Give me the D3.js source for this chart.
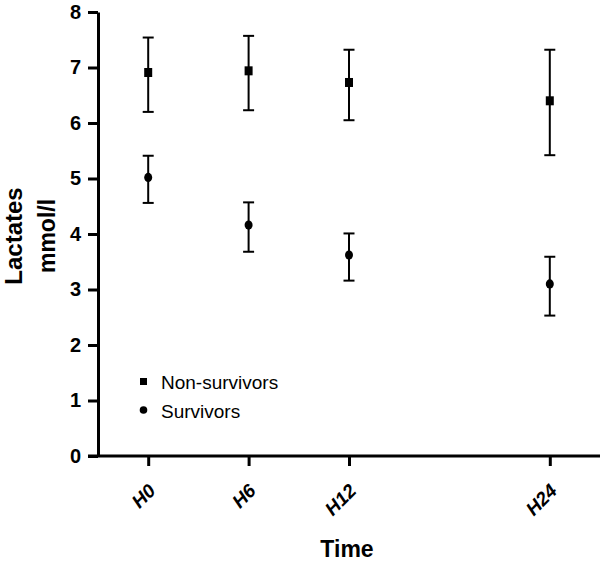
<!DOCTYPE html>
<html>
<head>
<meta charset="utf-8">
<script src="https://cdn.jsdelivr.net/npm/d3@7"></script>
<style>
  html, body { margin: 0; padding: 0; background: #fff; }
  svg { display: block; }
  text { font-family: "Liberation Sans", Arial, Helvetica, sans-serif; fill: #000; }
</style>
</head>
<body>
<svg id="chart" width="600" height="564"></svg>
<script>
// ---- data ----
const timeLabels = ["H0", "H6", "H12", "H24"];
const timeHours = [0, 6, 12, 24];
const yTicks = [0, 1, 2, 3, 4, 5, 6, 7, 8];

const nonSurvMean = [6.91, 6.94, 6.73, 6.40];
const nonSurvLow  = [6.20, 6.23, 6.05, 5.42];
const nonSurvHigh = [7.54, 7.57, 7.32, 7.32];

const survMean = [5.02, 4.16, 3.62, 3.10];
const survLow  = [4.56, 3.68, 3.16, 2.53];
const survHigh = [5.41, 4.57, 4.01, 3.59];

const seriesNames = ["Non-survivors", "Survivors"];

// ---- layout ----
const svg = d3.select("#chart");
const x = d3.scaleLinear().domain([-3, 27]).range([98, 600]);
const y = d3.scaleLinear().domain([0, 8]).range([456, 12]);

// axes
const yAxis = svg.append("g")
  .attr("transform", `translate(${x(-3)},0)`)
  .call(d3.axisLeft(y).tickValues(yTicks).tickFormat(d3.format("d"))
        .tickSize(10).tickSizeOuter(0).tickPadding(7));
yAxis.select(".domain").attr("stroke", "#000").attr("stroke-width", 3);
yAxis.selectAll(".tick line").attr("stroke", "#000").attr("stroke-width", 3);
yAxis.selectAll(".tick text")
  .style("font-family", '"Liberation Sans", Arial, sans-serif')
  .style("font-size", "20px").style("font-weight", "bold").attr("fill", "#000");

const xAxis = svg.append("g")
  .attr("transform", `translate(0,${y(0)})`)
  .call(d3.axisBottom(x).tickValues(timeHours)
        .tickFormat((d, i) => timeLabels[i]).tickSize(10).tickSizeOuter(0));
xAxis.select(".domain").attr("stroke", "#000").attr("stroke-width", 3)
  .attr("d", `M${x(-3) - 10},0H${x(27)}`);
xAxis.selectAll(".tick line").attr("stroke", "#000").attr("stroke-width", 3);
xAxis.selectAll(".tick text")
  .style("font-family", '"Liberation Sans", Arial, sans-serif')
  .style("font-size", "19px").style("font-weight", "bold").style("font-style", "italic")
  .attr("fill", "#000")
  .attr("y", 0).attr("dy", 0)
  .attr("text-anchor", "end")
  .attr("transform", "translate(8,36) rotate(-45)");

// axis titles
svg.append("text")
  .attr("x", 347).attr("y", 557)
  .attr("text-anchor", "middle")
  .style("font-size", "23px").style("font-weight", "bold")
  .text("Time");

const yt = svg.append("g").attr("transform", "translate(0,236) rotate(-90)");
yt.append("text").attr("x", 0).attr("y", 22).attr("text-anchor", "middle")
  .style("font-size", "24px").style("font-weight", "bold").text("Lactates");
yt.append("text").attr("x", 0).attr("y", 55).attr("text-anchor", "middle")
  .style("font-size", "23px").style("font-weight", "bold").text("mmol/l");

// error bars + markers
const capW = 11;
function drawSeries(mean, low, high, shape) {
  const g = svg.append("g");
  timeHours.forEach((h, i) => {
    const cx = x(h);
    g.append("line").attr("x1", cx).attr("x2", cx)
      .attr("y1", y(low[i])).attr("y2", y(high[i]))
      .attr("stroke", "#000").attr("stroke-width", 2);
    [low[i], high[i]].forEach(v => {
      g.append("line").attr("x1", cx - capW / 2).attr("x2", cx + capW / 2)
        .attr("y1", y(v)).attr("y2", y(v))
        .attr("stroke", "#000").attr("stroke-width", 2);
    });
    if (shape === "square") {
      g.append("rect").attr("x", cx - 4).attr("y", y(mean[i]) - 4.5)
        .attr("width", 8).attr("height", 9).attr("fill", "#000");
    } else {
      g.append("ellipse").attr("cx", cx).attr("cy", y(mean[i]))
        .attr("rx", 4).attr("ry", 4.6).attr("fill", "#000");
    }
  });
}
drawSeries(nonSurvMean, nonSurvLow, nonSurvHigh, "square");
drawSeries(survMean, survLow, survHigh, "circle");

// legend
const lg = svg.append("g");
lg.append("rect").attr("x", 140).attr("y", 378).attr("width", 7).attr("height", 7).attr("fill", "#000");
lg.append("circle").attr("cx", 143.5).attr("cy", 410).attr("r", 3.8).attr("fill", "#000");
lg.append("text").attr("x", 161).attr("y", 389).style("font-size", "19px").text(seriesNames[0]);
lg.append("text").attr("x", 161).attr("y", 418).style("font-size", "19px").text(seriesNames[1]);
</script>
</body>
</html>
